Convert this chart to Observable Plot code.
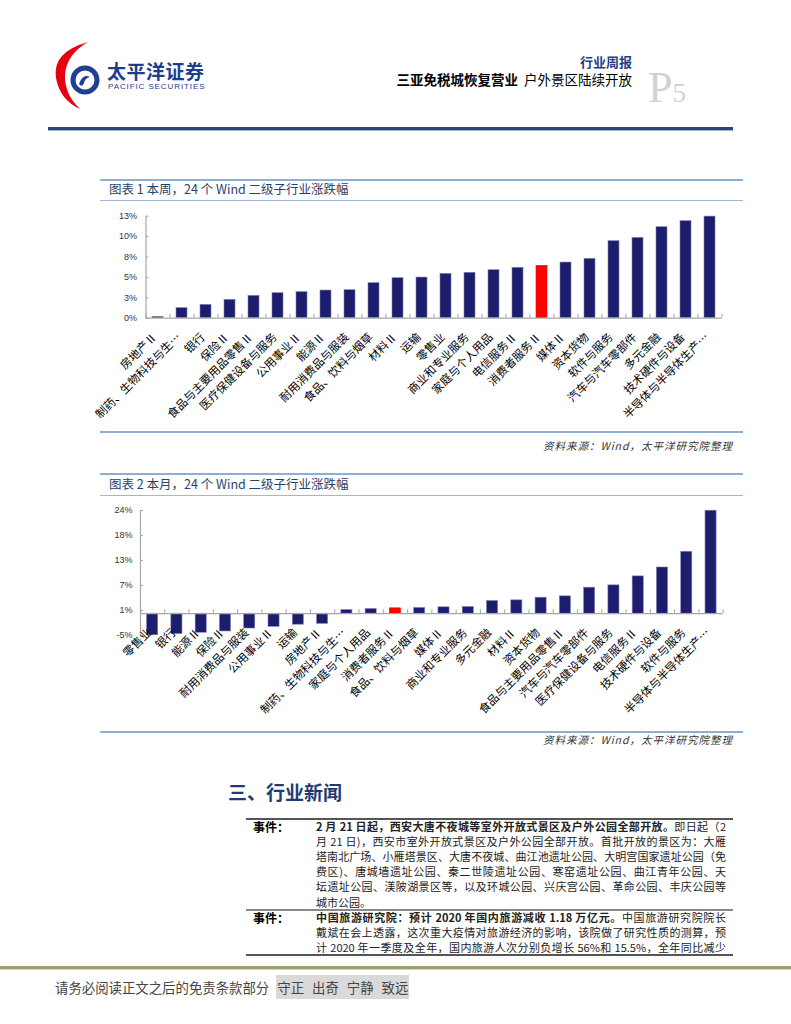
<!DOCTYPE html>
<html><head><meta charset="utf-8">
<script src="https://cdn.jsdelivr.net/npm/d3@7"></script>
<script src="https://cdn.jsdelivr.net/npm/@observablehq/plot@0.6"></script>
<style>
body{margin:0;background:#fff;width:791px;height:1024px;position:relative;overflow:hidden;font-family:"Noto Sans CJK SC","Noto Sans",sans-serif;}
.abs{position:absolute;line-height:1;white-space:nowrap;}
.rule{position:absolute;}
.ln{position:absolute;left:316px;width:410px;font-size:11px;line-height:1;white-space:nowrap;text-align:justify;text-align-last:justify;color:#222;}
.ln.last{text-align-last:left;}
.ttl{position:absolute;left:109px;font-size:12.5px;color:#2a3f6a;line-height:1;white-space:pre;}
.src{position:absolute;right:58px;font-size:10.5px;font-style:italic;color:#333;letter-spacing:1px;line-height:1;}
.ev{position:absolute;left:253px;font-size:12px;font-weight:bold;line-height:1;}
</style></head><body>

<!-- header -->
<svg class="abs" style="left:50px;top:40px" width="60" height="75" viewBox="0 0 60 75">
  <path d="M38,2 Q2,12 6,38 Q10,60 30,69 Q14,54 15,34 Q17,14 38,2 Z" fill="#e60012"/>
  <circle cx="35" cy="40" r="12" fill="none" stroke="#1d3f94" stroke-width="5"/>
  <path d="M29,44 Q33,33 40,37 Q35,38 34,43 Q32,48 29,44 Z" fill="#1d3f94"/>
</svg>
<div class="abs" style="left:107px;top:61px;font-size:19px;font-weight:bold;color:#1f3e8a;letter-spacing:0.5px">太平洋证券</div>
<div class="abs" style="left:108px;top:83px;font-size:8px;color:#1f3e8a;letter-spacing:0.9px;font-family:'Liberation Sans',Arial,sans-serif">PACIFIC SECURITIES</div>
<div class="abs" style="right:159px;top:55px;font-size:13px;font-weight:bold;color:#1f3e8a">行业周报</div>
<div class="abs" style="right:159px;top:73px;font-size:13.5px;color:#000"><b>三亚免税城恢复营业</b>&nbsp; 户外景区陆续开放</div>
<div class="abs" style="left:648px;top:66px;color:#d2d2d2;font-family:'Liberation Serif','Times New Roman',serif;"><span style="font-size:44px">P</span><span style="font-size:27px">5</span></div>
<div class="rule" style="left:48px;top:127px;width:685px;height:3px;background:#2a4675;border-bottom:1px solid #9fb3d1"></div>

<!-- chart 1 frame -->
<div class="rule" style="left:100px;top:179px;width:643px;height:2px;background:#8eaed4"></div>
<div class="ttl" style="top:183px">图表 1 本周，24 个 Wind 二级子行业涨跌幅</div>
<div class="rule" style="left:100px;top:200px;width:643px;height:1px;background:#9db8da"></div>
<div class="rule" style="left:100px;top:431px;width:643px;height:1.5px;background:#8eaed4"></div>
<div class="src" style="top:441px">资料来源：Wind，太平洋研究院整理</div>

<!-- chart 2 frame -->
<div class="rule" style="left:100px;top:473px;width:643px;height:2px;background:#8eaed4"></div>
<div class="ttl" style="top:478px">图表 2 本月，24 个 Wind 二级子行业涨跌幅</div>
<div class="rule" style="left:100px;top:495px;width:643px;height:1px;background:#9db8da"></div>
<div class="rule" style="left:100px;top:731px;width:643px;height:1.5px;background:#8eaed4"></div>
<div class="src" style="top:735px">资料来源：Wind，太平洋研究院整理</div>

<!-- section 3 -->
<div class="abs" style="left:228px;top:782px;font-size:19px;font-weight:bold;color:#1f3b73">三、行业新闻</div>
<div class="rule" style="left:246px;top:818px;width:487px;height:1.5px;background:#555"></div>
<div class="ev" style="top:821px">事件：</div>
<div class="ln" style="top:821px"><b>2 月 21 日起，西安大唐不夜城等室外开放式景区及户外公园全部开放。</b>即日起（2</div>
<div class="ln" style="top:836px">月 21 日)，西安市室外开放式景区及户外公园全部开放。首批开放的景区为：大雁</div>
<div class="ln" style="top:851px">塔南北广场、小雁塔景区、大唐不夜城、曲江池遗址公园、大明宫国家遗址公园（免</div>
<div class="ln" style="top:866px">费区)、唐城墙遗址公园、秦二世陵遗址公园、寒窑遗址公园、曲江青年公园、天</div>
<div class="ln" style="top:881px">坛遗址公园、渼陂湖景区等，以及环城公园、兴庆宫公园、革命公园、丰庆公园等</div>
<div class="ln last" style="top:897px">城市公园。</div>
<div class="rule" style="left:246px;top:909px;width:487px;height:2px;background:#888"></div>
<div class="ev" style="top:912px">事件：</div>
<div class="ln" style="top:912px"><b>中国旅游研究院：预计 2020 年国内旅游减收 1.18 万亿元。</b>中国旅游研究院院长</div>
<div class="ln" style="top:927px">戴斌在会上透露，这次重大疫情对旅游经济的影响，该院做了研究性质的测算，预</div>
<div class="ln" style="top:942px">计 2020 年一季度及全年，国内旅游人次分别负增长 56%和 15.5%，全年同比减少</div>
<div class="rule" style="left:246px;top:954px;width:487px;height:1.5px;background:#555"></div>

<!-- footer -->
<div class="rule" style="left:0px;top:966px;width:791px;height:3px;background:#a09e6e;border-bottom:1px solid #d6d4b4"></div>
<div class="abs" style="left:55px;top:981px;font-size:13.4px;color:#444">请务必阅读正文之后的免责条款部分<span style="display:inline-block;width:7px"></span><span style="background:#d9d9d9;padding:2px 1px;word-spacing:5px">守正 出奇 宁静 致远</span></div>

<script>
// ---- data ----
const weekNames = ["房地产Ⅱ","制药、生物科技与生…","银行","保险Ⅱ","食品与主要用品零售Ⅱ","医疗保健设备与服务","公用事业Ⅱ","能源Ⅱ","耐用消费品与服装","食品、饮料与烟草","材料Ⅱ","运输","零售业","商业和专业服务","家庭与个人用品","电信服务Ⅱ","消费者服务Ⅱ","媒体Ⅱ","资本货物","软件与服务","汽车与汽车零部件","多元金融","技术硬件与设备","半导体与半导体生产…"];
const weekValues = [0.16,1.23,1.63,2.25,2.74,3.06,3.19,3.39,3.43,4.29,4.90,4.98,5.43,5.56,5.88,6.17,6.41,6.82,7.27,9.44,9.84,11.15,11.89,12.45];
const weekTicks = [0,2.5,5,7.5,10,12.5];

const monthNames = ["零售业","银行","能源Ⅱ","保险Ⅱ","耐用消费品与服装","公用事业Ⅱ","运输","房地产Ⅱ","制药、生物科技与生…","家庭与个人用品","消费者服务Ⅱ","食品、饮料与烟草","媒体Ⅱ","商业和专业服务","多元金融","材料Ⅱ","资本货物","食品与主要用品零售Ⅱ","汽车与汽车零部件","医疗保健设备与服务","电信服务Ⅱ","技术硬件与设备","软件与服务","半导体与半导体生产…"];
const monthValues = [-5.1,-4.8,-4.5,-4.2,-3.5,-3.1,-2.6,-2.4,0.86,1.1,1.26,1.34,1.5,1.57,2.99,3.14,3.77,4.09,6.13,6.68,8.8,10.9,14.6,24.3];
const monthTicks = [-5.15,0.75,6.65,12.55,18.45,24.35];

const highlight = "消费者服务Ⅱ";

function drawChart(names, values, ticks, o) {
  const data = names.map((name, i) => ({name, value: values[i], i}));
  const n = data.length;
  const svg = Plot.plot({
    width: 791, height: o.height,
    marginLeft: o.ml, marginRight: o.mr, marginTop: o.mt, marginBottom: o.mb,
    x: {type: "linear", domain: [0, n], axis: null},
    y: {domain: [ticks[0], ticks[ticks.length - 1]], axis: null},
    style: {fontFamily: "'Noto Sans CJK SC', sans-serif", background: "transparent", overflow: "visible", color: "#000"},
    marks: [
      Plot.rectY(data, {x1: d => d.i, x2: d => d.i + 1, y1: 0, y2: d => d.value,
        insetLeft: o.inset, insetRight: o.inset,
        fill: d => d.name === highlight ? "#ff0000" : "#1d1d6e",
        stroke: d => d.name === highlight ? "#ff0000" : "#7d7db4", strokeWidth: 0.6}),
      Plot.ruleY([0], {stroke: "#a6a6a6", strokeWidth: 1.2}),
      Plot.ruleX(d3.range(n + 1), {x: d => d, y1: 0, y2: 0, insetTop: -4, stroke: "#a6a6a6"}),
      Plot.ruleX([0], {stroke: "#a6a6a6", strokeWidth: 1.2}),
      Plot.ruleY(ticks, {y: d => d, x1: 0, x2: 0, insetRight: -3, stroke: "#a6a6a6"}),
      Plot.axisY({ticks, tickFormat: d => Math.round(d) + "%", tickSize: 0, tickPadding: o.pad,
        fontSize: 9, fill: "#333", label: null, fontFamily: "'Liberation Sans', Arial, sans-serif"}),
      Plot.text(data, {x: d => d.i + 0.5, y: 0, text: "name", rotate: -45, textAnchor: "end",
        dx: -3, dy: 17, fontSize: 11.5, fill: "#000"})
    ]
  });
  svg.style.position = "absolute";
  svg.style.left = "0px";
  svg.style.top = o.top + "px";
  svg.style.clipPath = "inset(0px 0px 0px 95px)";
  document.body.appendChild(svg);
}

drawChart(weekNames, weekValues, weekTicks, {top: 205, height: 227, ml: 145.5, mr: 69.5, mt: 10.7, mb: 114.3, inset: 6.5, pad: 9});
drawChart(monthNames, monthValues, monthTicks, {top: 500, height: 230, ml: 140, mr: 68.3, mt: 10, mb: 95, inset: 6.6, pad: 8});
</script>
</body></html>
